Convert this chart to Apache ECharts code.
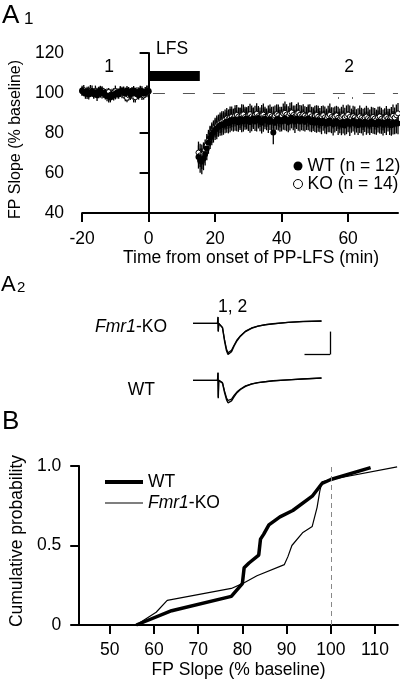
<!DOCTYPE html>
<html>
<head>
<meta charset="utf-8">
<script src="https://cdn.jsdelivr.net/npm/echarts@6/dist/echarts.min.js"></script>
<style>html,body{margin:0;padding:0;background:#fff;}#c{width:400px;height:682px;}</style>
</head>
<body>
<div id="c"></div>
<script>
// ---------- Panel A1: FP slope time course ----------
const baseStart = -20, postStart = 15, step = 0.5;
const wtBase = [101.2,100.5,99.8,100.9,99.3,100.2,101.0,99.5,100.4,98.9,
  100.6,101.4,99.9,100.1,99.0,98.6,98.2,97.8,99.1,98.7,
  99.6,100.3,99.4,100.8,101.1,100.2,99.7,101.3,100.6,99.2,
  100.9,101.2,99.8,100.4,98.9,100.7,101.0,99.6,100.3,100.8,101.0];
const koBase = [100.8,101.5,100.2,99.6,100.9,101.2,100.3,99.7,101.0,100.4,
  99.9,100.6,101.3,100.0,99.4,99.8,100.5,99.1,99.6,100.2,
  100.9,99.5,100.1,100.7,99.8,100.3,98.4,97.6,98.9,100.2,
  99.4,98.1,97.9,99.3,100.6,101.1,99.2,98.8,100.4,101.0,100.6];
const wtBaseErr = [2.4,2.1,2.7,2.2,2.5,2.0,2.8,2.3,2.1,2.9,2.5,2.2,2.6,2.3,2.1,2.7,3.0,2.5,2.2,2.4,
  2.8,2.1,2.3,2.6,2.0,2.5,2.9,2.2,2.4,2.7,2.1,2.3,2.8,2.5,2.2,2.6,2.4,2.1,2.7,2.9,2.5];
const koBaseErr = [2.2,2.5,2.0,2.6,2.3,2.8,2.1,2.4,2.7,2.2,2.5,2.9,2.1,2.3,2.6,2.4,2.0,2.7,2.5,2.2,
  2.8,2.3,2.1,2.6,2.4,2.9,2.5,2.2,2.7,2.3,2.1,2.8,2.6,2.4,2.2,2.5,2.7,2.1,2.3,2.6,2.3];
const wtPost = [68.0,66.2,65.8,67.4,69.5,72.3,75.1,77.6,79.2,80.4,
  81.6,82.3,83.1,83.9,84.3,84.0,85.1,85.6,84.9,86.2,
  86.5,85.7,86.8,86.1,85.4,87.0,86.3,85.8,86.9,87.3,
  86.0,85.5,86.7,87.2,85.9,86.4,87.5,86.0,85.3,86.6,
  87.1,86.2,85.6,86.9,85.8,80.2,85.4,86.7,87.0,86.1,
  85.7,86.8,87.4,86.3,85.5,86.9,87.6,86.4,85.8,87.2,
  86.6,85.9,87.1,86.5,85.7,86.8,87.3,86.0,85.4,86.6,
  85.9,85.2,86.4,85.7,84.9,86.1,85.5,84.6,85.8,86.3,
  85.0,84.4,85.6,86.0,84.8,85.3,84.1,85.5,83.8,84.9,
  85.7,84.5,85.2,86.1,84.7,85.4,84.0,85.8,85.1,84.3,
  85.6,84.8,85.3,84.2,85.9,84.6,85.0,84.4,85.7,84.9,
  85.4,84.1,85.2,84.7,85.8,84.5,83.9,85.1,84.6,85.3,
  84.8];
const koPost = [70.2,68.8,68.1,69.6,71.4,73.9,76.3,78.4,80.1,81.3,
  82.7,83.5,84.4,85.1,85.6,86.2,86.8,87.3,86.9,87.8,
  88.1,87.4,88.6,89.0,88.2,87.6,88.9,89.3,88.0,87.5,
  88.7,89.4,88.3,87.8,88.9,89.6,88.4,87.9,88.8,89.2,
  88.1,87.6,88.5,89.1,88.3,87.7,88.6,89.4,88.8,87.9,
  88.4,89.7,90.1,89.2,88.5,89.8,90.3,89.0,88.2,89.5,
  90.0,89.1,88.4,89.3,88.7,87.9,88.8,89.4,88.3,87.6,
  88.5,89.0,88.1,87.4,88.3,88.9,87.8,87.2,88.4,89.1,
  88.0,87.5,88.2,88.8,87.6,87.0,88.1,88.7,87.9,88.5,
  89.2,88.0,87.3,88.4,87.8,86.9,87.6,88.3,87.5,86.8,
  87.7,88.2,87.4,86.7,87.5,88.0,87.2,86.6,87.8,88.3,
  87.1,86.5,87.4,88.1,87.3,86.8,87.9,88.6,87.7,88.9,
  89.8];
const wtPostErr = [5.8,6.1,6.4,6.0,5.7,5.9,5.5,5.6,5.3,5.2,
  5.1,5.4,5.0,5.3,5.6,4.9,5.2,5.5,5.1,5.8,
  5.4,5.0,5.7,5.2,4.8,5.5,5.9,5.1,5.3,5.6,
  5.0,5.4,5.8,5.2,4.9,5.7,5.3,5.1,5.5,6.0,
  5.2,4.8,5.6,5.4,5.0,5.8,5.3,5.1,5.7,5.5,
  4.9,5.2,6.0,5.4,5.1,5.6,5.3,5.0,5.8,5.2,
  5.5,5.1,5.7,5.4,4.9,5.3,5.9,5.2,5.0,5.6,
  5.4,5.1,5.8,5.3,5.5,5.0,5.7,5.2,5.4,5.9,
  5.1,5.6,5.3,5.0,5.8,5.4,5.2,5.7,4.9,5.5,
  5.3,6.0,5.1,5.4,5.6,5.2,5.0,5.8,5.3,5.5,
  5.1,5.7,5.4,5.2,5.9,5.0,5.6,5.3,5.5,5.1,
  5.8,5.4,5.2,5.7,5.0,5.5,5.3,5.9,5.2,5.6,5.4];
const koPostErr = [5.5,5.8,6.1,5.7,5.4,5.6,5.3,5.2,5.1,5.0,
  4.9,5.2,4.8,5.1,5.3,4.7,5.0,5.2,4.9,5.4,
  5.1,4.8,5.3,5.0,4.6,5.2,5.5,4.9,5.1,5.3,
  4.8,5.2,5.4,5.0,4.7,5.3,5.1,4.9,5.2,5.6,
  5.0,4.6,5.3,5.1,4.8,5.5,5.1,4.9,5.4,5.2,
  4.7,5.0,5.6,5.2,4.9,5.3,5.1,4.8,5.5,5.0,
  5.2,4.9,5.4,5.1,4.7,5.1,5.5,5.0,4.8,5.3,
  5.1,4.9,5.5,5.1,5.2,4.8,5.4,5.0,5.2,5.6,
  4.9,5.3,5.1,4.8,5.5,5.2,5.0,5.4,4.7,5.3,
  5.1,5.7,4.9,5.2,5.4,5.0,4.8,5.5,5.1,5.3,
  4.9,5.4,5.2,5.0,5.6,4.8,5.3,5.1,5.3,4.9,
  5.5,5.2,5.0,5.4,4.8,5.3,5.1,5.6,5.0,5.4,5.2];
const a1XTicks = [-20, 0, 20, 40, 60];

// ---------- Panel A2: field potential traces (ms, mV) ----------
const traceTime = [0,4.9,5.0,5.05,5.15,5.5,5.9,6.3,6.7,7.0,7.3,7.7,8.2,8.8,9.5,10.5,11.7,13,14.5,16,19,22,25.7];
const koTrace1 = [0,0,0.14,-0.18,0,0.02,-0.1,-0.38,-0.6,-0.68,-0.69,-0.62,-0.5,-0.38,-0.28,-0.18,-0.11,-0.06,-0.03,-0.01,0.02,0.04,0.05];
const koTrace2 = [0,0,0.13,-0.17,0,0.02,-0.09,-0.35,-0.56,-0.64,-0.65,-0.59,-0.48,-0.36,-0.27,-0.17,-0.1,-0.06,-0.03,-0.01,0.02,0.04,0.05];
const wtTrace1 = [0,0,0.17,-0.39,0,0.01,-0.06,-0.26,-0.42,-0.49,-0.5,-0.45,-0.36,-0.27,-0.2,-0.13,-0.08,-0.05,-0.03,-0.01,0.01,0.03,0.05];
const wtTrace2 = [0,0,0.16,-0.37,0,0.01,-0.05,-0.23,-0.38,-0.44,-0.45,-0.41,-0.33,-0.25,-0.19,-0.12,-0.08,-0.05,-0.03,-0.01,0.01,0.03,0.05];

// ---------- Panel B: cumulative probability ----------
const wtCumX = [56,64,77.5,80,80.4,81.5,83.7,84.1,84.8,86,88.5,91.4,95.8,98,100,109];
const wtCumY = [0,0.09,0.18,0.26,0.36,0.39,0.44,0.54,0.57,0.63,0.68,0.72,0.81,0.89,0.915,0.99];
const koCumX = [56,60.5,63,77.5,80,83.3,89.5,90.3,91.2,93.6,95.8,96.9,97.5,98,100,115];
const koCumY = [0,0.08,0.155,0.23,0.26,0.31,0.38,0.43,0.5,0.58,0.62,0.74,0.84,0.9,0.915,0.995];
const bXTicks = [50,60,70,80,90,100,110];

// ---------- build ----------
const FONT = '"Liberation Sans", Arial, Helvetica, sans-serif';
const FS = 17.5;
function series3(start, vals, errs) {
  return vals.map((v, i) => [start + i * step, v, errs[i]]);
}
const wtPts = series3(baseStart, wtBase, wtBaseErr).concat(series3(postStart, wtPost, wtPostErr));
const koPts = series3(baseStart, koBase, koBaseErr).concat(series3(postStart, koPost, koPostErr));
const zip = (a, b) => a.map((v, i) => [v, b[i]]);

function errRender(params, api) {
  const t = api.value(0), y = api.value(1), e = api.value(2);
  const p1 = api.coord([t, y - e]), p2 = api.coord([t, y + e]);
  return {type: 'line', shape: {x1: p1[0], y1: p1[1], x2: p2[0], y2: p2[1]},
    style: {stroke: '#000', lineWidth: 1.3}};
}
const txt = {color: '#000', fontFamily: FONT, fontSize: FS};
const axLine = {show: true, lineStyle: {color: '#000', width: 2}};
const axTickY = {show: true, inside: false, length: 9, lineStyle: {color: '#000', width: 2}};
const gtxt = (x, y, text, extra) => ({type: 'text', x: x, y: y,
  style: Object.assign({text: text, fontSize: FS, fontFamily: FONT, fill: '#000', verticalAlign: 'middle'}, extra || {})});

const option = {
  animation: false,
  backgroundColor: '#fff',
  textStyle: {fontFamily: FONT},
  grid: [
    {left: 81, top: 53, width: 317, height: 160},
    {left: 193, top: 305, width: 140, height: 55},
    {left: 193, top: 362, width: 140, height: 55},
    {left: 71, top: 466, width: 327, height: 159}
  ],
  xAxis: [
    {gridIndex: 0, type: 'value', min: -20, max: 75, splitLine: {show: false},
      axisLine: axLine,
      axisTick: {show: true, length: 9, customValues: a1XTicks, lineStyle: {color: '#000', width: 2}},
      axisLabel: Object.assign({margin: 17, customValues: a1XTicks}, txt),
      name: 'Time from onset of PP-LFS (min)', nameLocation: 'middle', nameGap: 36,
      nameTextStyle: Object.assign({padding: [0, 0, 0, 22]}, txt)},
    {gridIndex: 1, type: 'value', min: 0, max: 28, show: false},
    {gridIndex: 2, type: 'value', min: 0, max: 28, show: false},
    {gridIndex: 3, type: 'value', min: 43.1, max: 115.2, splitLine: {show: false},
      axisLine: axLine,
      axisTick: {show: true, length: 9, customValues: bXTicks, lineStyle: {color: '#000', width: 2}},
      axisLabel: Object.assign({margin: 16, customValues: bXTicks}, txt),
      name: 'FP Slope (% baseline)', nameLocation: 'middle', nameGap: 36,
      nameTextStyle: txt}
  ],
  yAxis: [
    {gridIndex: 0, type: 'value', min: 40, max: 120, interval: 20, splitLine: {show: false},
      axisLine: axLine, axisTick: axTickY,
      axisLabel: Object.assign({margin: 18}, txt),
      name: 'FP Slope (% baseline)', nameLocation: 'middle', nameGap: 56,
      nameTextStyle: Object.assign({}, txt, {fontSize: 16, padding: [0, 13, 0, 0]})},
    {gridIndex: 1, type: 'value', min: -0.8, max: 0.4, show: false},
    {gridIndex: 2, type: 'value', min: -0.8, max: 0.4, show: false},
    {gridIndex: 3, type: 'value', min: 0, max: 1, interval: 0.5, splitLine: {show: false},
      axisLine: axLine, axisTick: axTickY,
      axisLabel: Object.assign({margin: 18, formatter: v => v === 0 ? '0' : v.toFixed(1)}, txt),
      name: 'Cumulative probability', nameLocation: 'middle', nameGap: 47,
      nameTextStyle: Object.assign({padding: [0, 0, 0, 9]}, txt)}
  ],
  legend: [
    {orient: 'vertical', left: 288, top: 152, itemWidth: 9, itemHeight: 9, itemGap: 0,
      data: ['WT (n = 12)', {name: 'KO (n = 14)', itemStyle: {borderWidth: 1}}], selectedMode: false,
      textStyle: Object.assign({lineHeight: 17}, txt)},
    {orient: 'vertical', left: 100, top: 467, itemWidth: 38, itemHeight: 4, icon: 'rect',
      data: ['WT'], selectedMode: false,
      textStyle: Object.assign({lineHeight: 20}, txt)},
    {orient: 'vertical', left: 100, top: 488, itemWidth: 38, itemHeight: 1.2, icon: 'rect',
      data: ['Fmr1-KO'], selectedMode: false,
      formatter: n => '{i|Fmr1}-KO',
      textStyle: Object.assign({lineHeight: 20, rich: {i: {fontStyle: 'italic', fontSize: FS, fontFamily: FONT, color: '#000'}}}, txt)}
  ],
  series: [
    {type: 'custom', name: 'KO err', xAxisIndex: 0, yAxisIndex: 0, data: koPts,
      encode: {x: 0, y: 1}, renderItem: errRender, silent: true},
    {type: 'scatter', name: 'KO (n = 14)', xAxisIndex: 0, yAxisIndex: 0, data: koPts,
      symbol: 'circle', symbolSize: 5,
      itemStyle: {color: '#fff', borderColor: '#000', borderWidth: 1, opacity: 1}},
    {type: 'custom', name: 'WT err', xAxisIndex: 0, yAxisIndex: 0, data: wtPts,
      encode: {x: 0, y: 1}, renderItem: errRender, silent: true},
    {type: 'scatter', name: 'WT (n = 12)', xAxisIndex: 0, yAxisIndex: 0, data: wtPts,
      symbol: 'circle', symbolSize: 6, itemStyle: {color: '#000', opacity: 1},
      markLine: {silent: true, symbol: ['none', 'none'], label: {show: false},
        data: [
          [{coord: [1.3, 100], lineStyle: {type: [12, 18], color: '#555', width: 1}}, {coord: [75, 100]}],
          [{coord: [57, 97], lineStyle: {type: 'solid', color: '#666', width: 1}}, {coord: [57, 98]}],
          [{coord: [61.1, 97], lineStyle: {type: 'solid', color: '#666', width: 1}}, {coord: [61.1, 98]}]
        ]},
      markArea: {silent: true, itemStyle: {color: '#000', opacity: 1},
        data: [[{coord: [0, 106]}, {coord: [15.4, 111]}]]}},
    {type: 'line', name: 'KO trace 1', xAxisIndex: 1, yAxisIndex: 1, data: zip(traceTime, koTrace1),
      symbol: 'none', lineStyle: {color: '#000', width: 1.4},
      markLine: {silent: true, symbol: ['none', 'none'], label: {show: false},
        lineStyle: {type: 'solid', color: '#000', width: 1.3},
        data: [[{coord: [22.3, -0.68]}, {coord: [27.4, -0.68]}], [{coord: [27.4, -0.68]}, {coord: [27.4, -0.18]}]]}},
    {type: 'line', name: 'KO trace 2', xAxisIndex: 1, yAxisIndex: 1, data: zip(traceTime, koTrace2),
      symbol: 'none', lineStyle: {color: '#000', width: 1.2}},
    {type: 'line', name: 'WT trace 1', xAxisIndex: 2, yAxisIndex: 2, data: zip(traceTime, wtTrace1),
      symbol: 'none', lineStyle: {color: '#000', width: 1.4}},
    {type: 'line', name: 'WT trace 2', xAxisIndex: 2, yAxisIndex: 2, data: zip(traceTime, wtTrace2),
      symbol: 'none', lineStyle: {color: '#000', width: 1.2}},
    {type: 'line', name: 'WT', xAxisIndex: 3, yAxisIndex: 3, data: zip(wtCumX, wtCumY),
      symbol: 'none', lineStyle: {color: '#000', width: 3.5}, itemStyle: {color: '#000'},
      markLine: {silent: true, symbol: ['none', 'none'], label: {show: false},
        lineStyle: {type: [5, 4], color: '#888', width: 1},
        data: [[{coord: [100, 0]}, {coord: [100, 1]}]]}},
    {type: 'line', name: 'Fmr1-KO', xAxisIndex: 3, yAxisIndex: 3, data: zip(koCumX, koCumY),
      symbol: 'none', lineStyle: {color: '#000', width: 1.2}, itemStyle: {color: '#000'}}
  ],
  graphic: [
    gtxt(2, 16, 'A', {fontSize: 26}),
    gtxt(24, 19, '1', {fontSize: 17}),
    gtxt(1, 284.5, 'A', {fontSize: 22}),
    gtxt(17, 287.5, '2', {fontSize: 15}),
    gtxt(2, 422, 'B', {fontSize: 26}),
    gtxt(172, 49, 'LFS', {align: 'center'}),
    gtxt(109, 67, '1', {align: 'center'}),
    gtxt(349, 67, '2', {align: 'center'}),
    gtxt(218, 307.5, '1, 2'),
    gtxt(167, 327.5, '{i|Fmr1}-KO', {align: 'right', rich: {i: {fontStyle: 'italic', fontSize: FS, fontFamily: FONT, fill: '#000'}}}),
    gtxt(155, 390.5, 'WT', {align: 'right'})
  ]
};
const chart = echarts.init(document.getElementById('c'), null, {renderer: 'canvas'});
chart.setOption(option);
</script>
</body>
</html>
